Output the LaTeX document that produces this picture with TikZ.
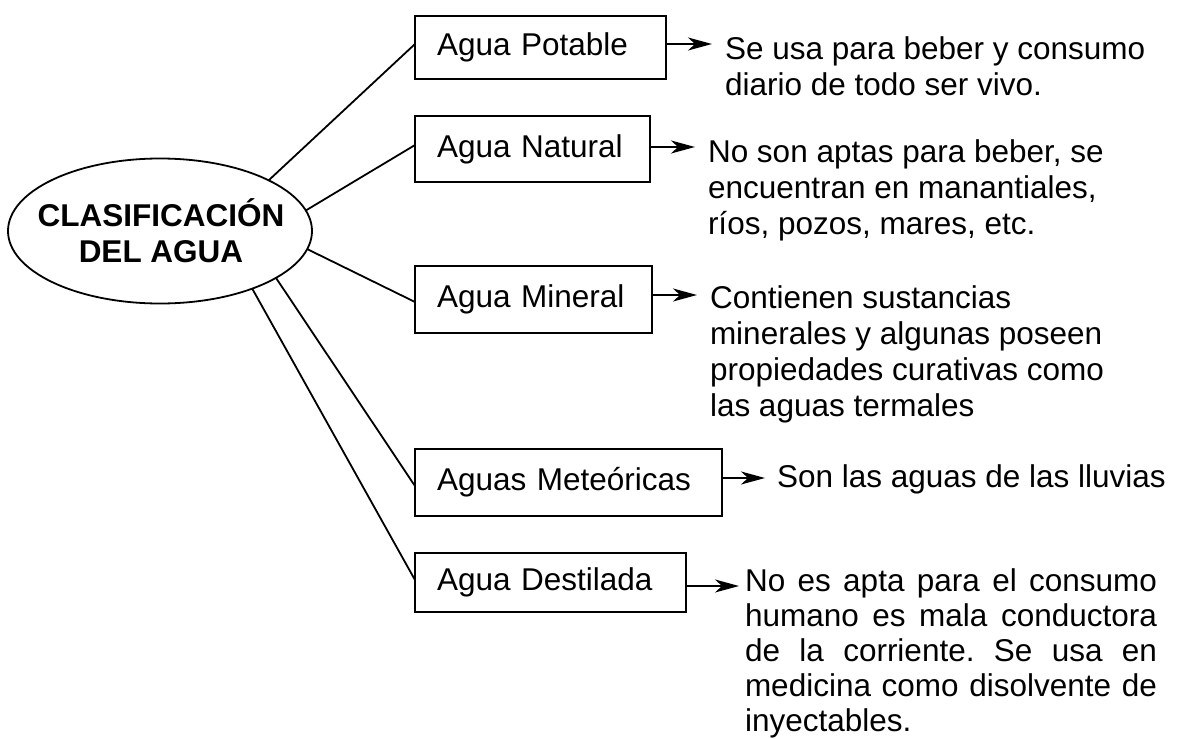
\documentclass[tikz,border=0pt]{standalone}
\usepackage{fontspec}
\setmainfont{Liberation Sans}
\usetikzlibrary{arrows.meta,shapes.geometric}
\begin{document}
\frenchspacing
\begin{tikzpicture}[x=1pt,y=-1pt,
  every node/.style={font=\fontsize{31.5}{36.3}\selectfont, inner sep=0pt, outer sep=0pt},
  conn/.style={line width=1.8pt},
  arr/.style={line width=1.8pt, -{Stealth[length=24pt,width=13pt,inset=7pt]}},
  box/.style={draw, line width=1.8pt, anchor=north west, inner xsep=22pt, inner ysep=0pt, align=left, text height=23pt, text depth=7pt},
  desc/.style={anchor=base west, inner sep=0pt}]
\useasboundingbox (0,0) rectangle (1181,739);
% central ellipse
\node[ellipse, draw, line width=1.8pt, minimum width=304pt, minimum height=145pt] (ell) at (160,231) {};
\node[font=\fontsize{31.5}{36}\selectfont\bfseries, align=center] (ellt) at (161,231) {CLASIFICACIÓN\\DEL AGUA};
% boxes
\node[box, text width=207pt, minimum height=63pt] (b1) at (415,16) {Agua Potable};
\node[box, text width=191pt, minimum height=66pt] (b2) at (415,116) {Agua Natural};
\node[box, text width=193pt, minimum height=67pt] (b3) at (415,266) {Agua Mineral};
\node[box, text width=263pt, minimum height=67pt] (b4) at (415,449) {Aguas Meteóricas};
\node[box, text width=227pt, minimum height=59pt] (b5) at (415,553) {Agua Destilada};
% descriptions
\node[desc] (d1) at (725,59) {\parbox[t]{440pt}{\raggedright Se usa para beber y consumo\\diario de todo ser vivo.}};
\node[desc] (d2) at (708,162) {\parbox[t]{440pt}{\raggedright No son aptas para beber, se\\encuentran en manantiales,\\ríos, pozos, mares, etc.}};
\node[desc] (d3) at (710,308) {\parbox[t]{440pt}{\raggedright Contienen sustancias\\minerales y algunas poseen\\propiedades curativas como\\las aguas termales}};
\node[desc] (d4) at (777,487) {Son las aguas de las lluvias};
\node[desc, font=\fontsize{31.5}{35}\selectfont] (d5) at (745,591) {\parbox[t]{412pt}{No es apta para el consumo\linebreak humano es mala conductora\linebreak de la corriente. Se usa en\linebreak medicina como disolvente de\linebreak inyectables.}};
% connectors from ellipse
\draw[conn] (ell.25) -- ([yshift=-28pt]b1.north west);
\draw[conn] (ell.8.5) -- ([yshift=-29pt]b2.north west);
\draw[conn] (ell.353.5) -- ([yshift=-36pt]b3.north west);
\draw[conn] (ell.338) -- ([yshift=-37pt]b4.north west);
\draw[conn] (ell.328) -- ([yshift=-27pt]b5.north west);
% arrows to descriptions
\coordinate (e1) at (712,44);
\coordinate (e2) at (695,147);
\coordinate (e3) at (697,295);
\coordinate (e4) at (765,478);
\coordinate (e5) at (739,586);
\draw[arr] ([yshift=-28pt]b1.north east) -- (e1);
\draw[arr] ([yshift=-31pt]b2.north east) -- (e2);
\draw[arr] ([yshift=-29pt]b3.north east) -- (e3);
\draw[arr] ([yshift=-29pt]b4.north east) -- (e4);
\draw[arr] ([yshift=-33pt]b5.north east) -- (e5);
\end{tikzpicture}
\end{document}
